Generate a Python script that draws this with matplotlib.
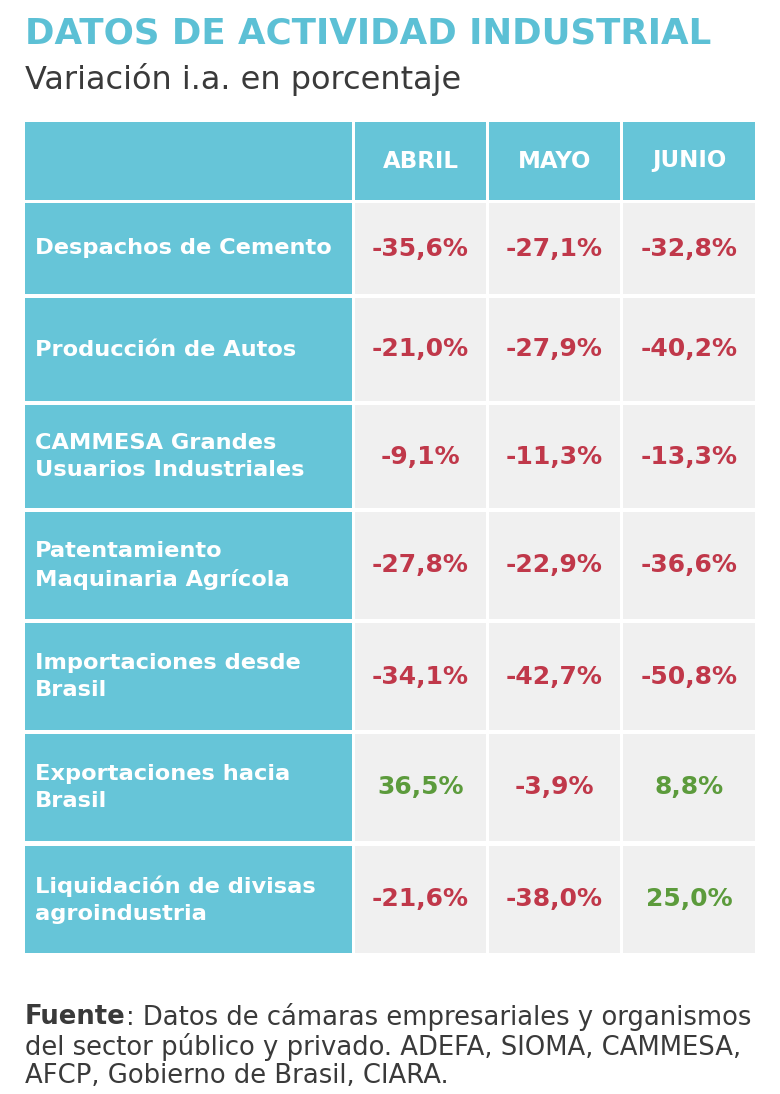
import matplotlib
matplotlib.use("Agg")
import matplotlib.pyplot as plt
from matplotlib.patches import Rectangle

plt.rcParams["font.family"] = "DejaVu Sans"

# ── datos ─────────────────────────────────────────────
months = ["ABRIL", "MAYO", "JUNIO"]
indicators = [
    "Despachos de Cemento",
    "Producción de Autos",
    "CAMMESA Grandes\nUsuarios Industriales",
    "Patentamiento\nMaquinaria Agrícola",
    "Importaciones desde\nBrasil",
    "Exportaciones hacia\nBrasil",
    "Liquidación de divisas\nagroindustria",
]
abril = [-35.6, -21.0, -9.1, -27.8, -34.1, 36.5, -21.6]
mayo = [-27.1, -27.9, -11.3, -22.9, -42.7, -3.9, -38.0]
junio = [-32.8, -40.2, -13.3, -36.6, -50.8, 8.8, 25.0]

# ── colores ───────────────────────────────────────────
C_TEAL = "#66C5D8"
C_TITLE = "#5CC0D5"
C_CELL = "#F0F0F0"
C_RED = "#C0384A"
C_GREEN = "#5C9B3C"
C_TEXT = "#3A3A3A"

W, H = 780, 1094
fig = plt.figure(figsize=(W / 100, H / 100), dpi=100)
ax = fig.add_axes([0, 0, 1, 1])
ax.set_xlim(0, W)
ax.set_ylim(H, 0)
ax.axis("off")

# layout (pixeles)
col_edges = [(25, 352), (355, 486), (489, 620), (623, 755)]
row_edges = [(122, 200), (203, 294), (298, 401), (405, 508), (512, 619),
             (623, 730), (734, 841), (846, 953)]

ax.text(25, 34, "DATOS DE ACTIVIDAD INDUSTRIAL", color=C_TITLE,
        fontsize=25.7, fontweight="bold", va="center", ha="left")
ax.text(25, 80, "Variación i.a. en porcentaje", color=C_TEXT,
        fontsize=23, va="center", ha="left")


def cell(c, r, color):
    x0, x1 = col_edges[c]
    y0, y1 = row_edges[r]
    ax.add_patch(Rectangle((x0, y0), x1 - x0, y1 - y0, color=color, lw=0))
    return (x0 + x1) / 2, (y0 + y1) / 2


# cabecera
for c in range(4):
    cx, cy = cell(c, 0, C_TEAL)
    if c > 0:
        ax.text(cx, cy, months[c - 1], color="white", fontsize=16.5,
                fontweight="bold", ha="center", va="center")

# filas
series = [abril, mayo, junio]
for i, name in enumerate(indicators):
    r = i + 1
    cx, cy = cell(0, r, C_TEAL)
    ax.text(col_edges[0][0] + 10, cy, name, color="white", fontsize=16.2,
            fontweight="bold", ha="left", va="center", linespacing=1.42)
    for j, vals in enumerate(series):
        cx, cy = cell(j + 1, r, C_CELL)
        v = vals[i]
        txt = f"{v:.1f}%".replace(".", ",")
        ax.text(cx, cy, txt, color=C_RED if v < 0 else C_GREEN,
                fontsize=18, fontweight="bold", ha="center", va="center")

# fuente
fs = 18.6
t = ax.text(25, 1017, "Fuente", color=C_TEXT, fontsize=fs, fontweight="bold",
            ha="left", va="center")
fig.canvas.draw()
bb = t.get_window_extent(renderer=fig.canvas.get_renderer())
x_end = bb.x1
ax.text(x_end, 1017, ": Datos de cámaras empresariales y organismos",
        color=C_TEXT, fontsize=fs, ha="left", va="center")
ax.text(25, 1047, "del sector público y privado. ADEFA, SIOMA, CAMMESA,",
        color=C_TEXT, fontsize=fs, ha="left", va="center")
ax.text(25, 1076, "AFCP, Gobierno de Brasil, CIARA.",
        color=C_TEXT, fontsize=fs, ha="left", va="center")

fig.savefig("out.png", dpi=100, facecolor="white")
